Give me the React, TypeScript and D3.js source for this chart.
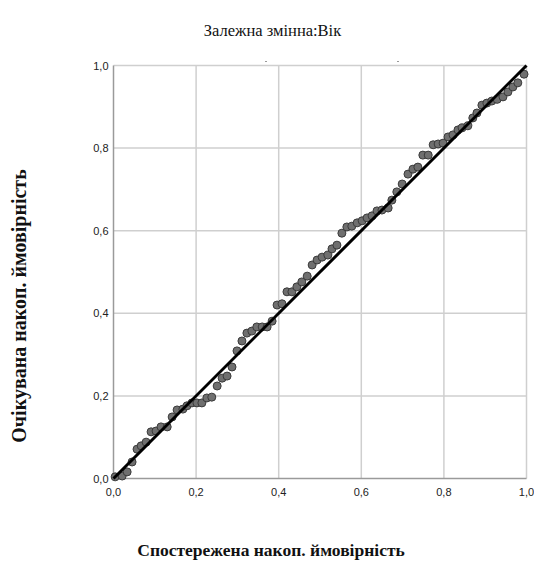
import React from "react";
import * as d3 from "d3";

const observed = [
  0.004, 0.021, 0.033, 0.045, 0.057, 0.067, 0.079, 0.091, 0.103, 0.115,
  0.130, 0.142, 0.154, 0.168, 0.178, 0.190, 0.202, 0.214, 0.226, 0.238,
  0.251, 0.263, 0.275, 0.287, 0.299, 0.311, 0.323, 0.335, 0.347, 0.360,
  0.372, 0.384, 0.396, 0.408, 0.420, 0.432, 0.444, 0.456, 0.469, 0.481,
  0.493, 0.505, 0.519, 0.529, 0.541, 0.553, 0.565, 0.577, 0.590, 0.602,
  0.614, 0.626, 0.638, 0.650, 0.665, 0.674, 0.686, 0.699, 0.713, 0.725,
  0.737, 0.749, 0.762, 0.774, 0.786, 0.798, 0.810, 0.822, 0.834, 0.844,
  0.858, 0.870, 0.880, 0.892, 0.904, 0.916, 0.929, 0.943, 0.955, 0.967,
  0.979, 0.994,
];
const expected = [
  0.004, 0.006, 0.016, 0.040, 0.071, 0.079, 0.088, 0.113, 0.115, 0.125,
  0.125, 0.149, 0.166, 0.168, 0.176, 0.183, 0.183, 0.183, 0.195, 0.197,
  0.224, 0.243, 0.248, 0.270, 0.309, 0.333, 0.352, 0.357, 0.367, 0.367,
  0.367, 0.381, 0.420, 0.423, 0.452, 0.452, 0.464, 0.476, 0.490, 0.517,
  0.529, 0.536, 0.541, 0.556, 0.565, 0.594, 0.609, 0.611, 0.619, 0.624,
  0.631, 0.636, 0.648, 0.650, 0.655, 0.674, 0.694, 0.713, 0.737, 0.749,
  0.754, 0.783, 0.783, 0.808, 0.810, 0.812, 0.827, 0.832, 0.844, 0.849,
  0.854, 0.873, 0.885, 0.904, 0.909, 0.914, 0.918, 0.924, 0.936, 0.948,
  0.958, 0.979,
];
const tickValues = [0, 0.2, 0.4, 0.6, 0.8, 1.0];
const tickLabels = ["0,0", "0,2", "0,4", "0,6", "0,8", "1,0"];
const refLine = [0, 1];

const title = "Залежна змінна:Вік";
const xTitle = "Спостережена накоп. ймовірність";
const yTitle = "Очікувана накоп. ймовірність";

export default function App() {
  const W = 534, H = 564;
  const left = 113.5, right = 526.5, top = 65.5, bottom = 478.5;
  const x = d3.scaleLinear().domain([0, 1]).range([left, right]);
  const y = d3.scaleLinear().domain([0, 1]).range([bottom, top]);
  const line = d3.line<number>().x((d) => x(d)).y((d) => y(d));
  const pts = observed.map((o, i) => [o, expected[i]] as [number, number]);
  const sans = "'Liberation Sans', Arial, sans-serif";
  const serif = "'Liberation Serif', 'Times New Roman', serif";

  return (
    <svg
      width={W}
      height={H}
      style={{ position: "absolute", left: 0, top: 0, background: "#fff" }}
    >
      <rect x={0} y={0} width={W} height={H} fill="#fff" />
      <text x={272.5} y={36} textAnchor="middle" fontFamily={serif} fontSize={16.5} fill="#111">
        {title}
      </text>
      {/* tiny marks above plot */}
      <line x1={265} x2={267} y1={61.5} y2={61.5} stroke="#999" strokeWidth={1} />
      <line x1={397} x2={399} y1={61.5} y2={61.5} stroke="#999" strokeWidth={1} />
      {/* grid */}
      {tickValues.slice(1).map((t) => (
        <line key={"gx" + t} x1={x(t)} x2={x(t)} y1={top} y2={bottom} stroke="#cfcfcf" strokeWidth={1.5} />
      ))}
      {tickValues.slice(1).map((t) => (
        <line key={"gy" + t} x1={left} x2={right} y1={y(t)} y2={y(t)} stroke="#cfcfcf" strokeWidth={1.5} />
      ))}
      {/* axes */}
      <line x1={left} x2={left} y1={top} y2={bottom} stroke="#9a9a9a" strokeWidth={1.5} />
      <line x1={left} x2={right} y1={bottom} y2={bottom} stroke="#9a9a9a" strokeWidth={1.5} />
      {tickValues.map((t, i) => (
        <text key={"xl" + t} x={x(t)} y={bottom + 17} textAnchor="middle" fontFamily={sans} fontSize={11} fill="#222">
          {tickLabels[i]}
        </text>
      ))}
      {tickValues.map((t, i) => (
        <text key={"yl" + t} x={left - 5} y={y(t) + 4} textAnchor="end" fontFamily={sans} fontSize={11} fill="#222">
          {tickLabels[i]}
        </text>
      ))}
      {/* points */}
      {pts.map((p, i) => (
        <circle key={i} cx={x(p[0])} cy={y(p[1])} r={4} fill="#6f6f6f" stroke="#3a3a3a" strokeWidth={1} />
      ))}
      {/* reference line */}
      <path d={line(refLine) || ""} stroke="#000" strokeWidth={3} fill="none" />
      <text x={271} y={556} textAnchor="middle" fontFamily={serif} fontWeight="bold" fontSize={17.5} fill="#111">
        {xTitle}
      </text>
      <text
        transform={`translate(26, 306) rotate(-90)`}
        textAnchor="middle"
        fontFamily={serif}
        fontWeight="bold"
        fontSize={20}
        fill="#111"
      >
        {yTitle}
      </text>
    </svg>
  );
}
